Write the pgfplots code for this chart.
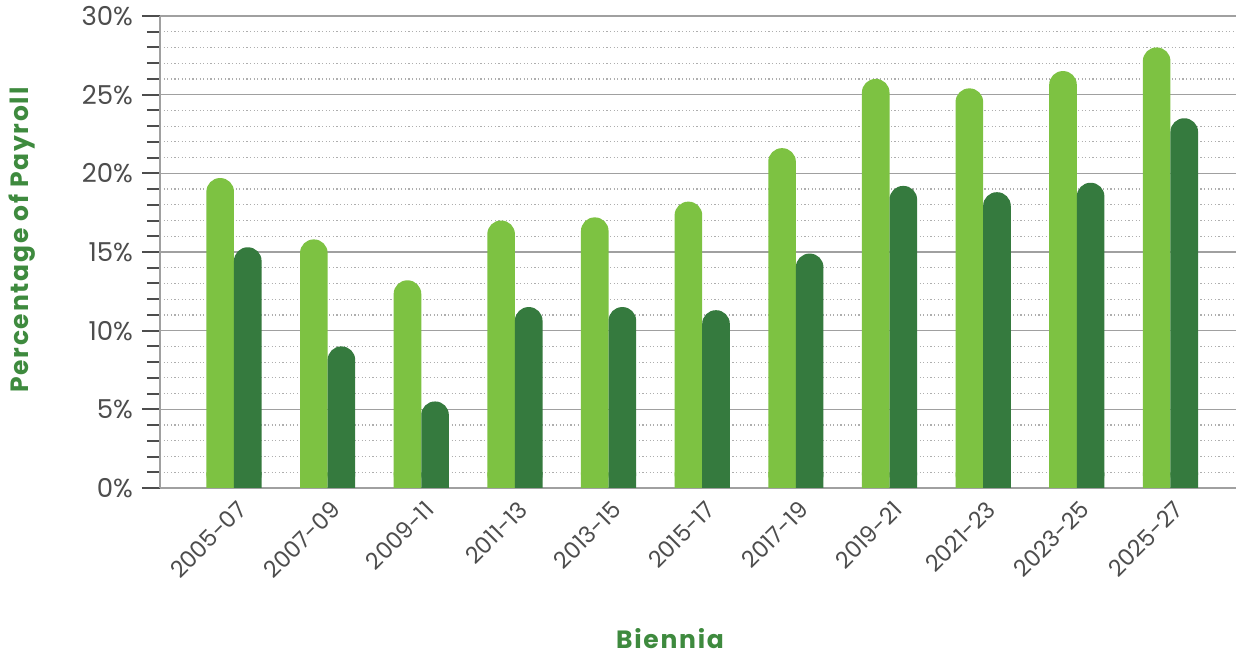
\documentclass[border=0pt]{standalone}
\usepackage{pgfplots}
\pgfplotsset{compat=1.18}
\usepackage{pgfplotstable}
\usepackage{fontspec}
\setmainfont{Poppins}
\newfontfamily\labelfont[LetterSpace=7]{Poppins}

\definecolor{lightbar}{RGB}{125,194,66}
\definecolor{darkbar}{RGB}{53,122,62}
\definecolor{labelgreen}{RGB}{62,138,62}
\definecolor{tickgray}{RGB}{77,77,77}
\definecolor{gridgray}{RGB}{160,160,160}

% biennium index, light series, dark series (percent of payroll)
\pgfplotstableread{
x  light dark
0  19.7  15.3
1  15.8  9.0
2  13.2  5.5
3  17.0  11.5
4  17.2  11.5
5  18.2  11.3
6  21.6  14.9
7  26.0  19.2
8  25.4  18.8
9  26.5  19.4
10 28.0  23.5
}\biennia

\begin{document}
\begin{tikzpicture}
\useasboundingbox (-80pt,-85pt) rectangle (539pt,244pt);
\begin{axis}[
  scale only axis,
  width=538pt, height=236pt,
  xmin=-0.79, xmax=10.7,
  ymin=0, ymax=30,
  ybar=0pt, bar width=13.8pt,
  axis x line*=bottom, axis y line*=left,
  axis line style={draw=gridgray, line width=0.8pt},
  xtick={0,...,10},
  xticklabels={2005-07,2007-09,2009-11,2011-13,2013-15,2015-17,2017-19,2019-21,2021-23,2023-25,2025-27},
  major x tick style={draw=none},
  xticklabel style={rotate=45, anchor=north east, font=\fontsize{11.5}{13}\selectfont, text=tickgray, xshift=6.5pt, yshift=5pt},
  ytick={0,5,...,30},
  minor y tick num=4,
  yticklabel={\pgfmathprintnumber{\tick}\%},
  /pgf/number format/assume math mode=true,
  yticklabel style={font=\fontsize{13}{15}\selectfont, text=tickgray, xshift=-1pt},
  tick align=outside,
  major tick length=9pt, minor tick length=6.5pt,
  y tick style={draw=tickgray, line width=1pt},
  ymajorgrids, yminorgrids,
  major grid style={draw=gridgray, line width=0.7pt},
  minor grid style={draw=gridgray!85, line width=0.6pt, dash pattern=on 0.6pt off 1.2pt},
  xlabel={\labelfont\bfseries Biennia},
  ylabel={\labelfont\bfseries Percentage of Payroll},
  label style={font=\fontsize{12.5}{14}\selectfont, text=labelgreen},
  xlabel style={at={(axis description cs:0.474,0)}, anchor=base, yshift=-80.5pt},
  ylabel style={at={(axis description cs:-0.1283,0.525)}, anchor=center},
]
\addplot[fill=lightbar, draw=none, rounded corners=6.8pt, bar shift=-6.9pt] table[x=x, y=light] {\biennia};
\addplot[fill=darkbar, draw=none, rounded corners=6.8pt, bar shift=6.9pt] table[x=x, y=dark] {\biennia};
% square feet so that only the tops are rounded
\addplot[fill=lightbar, draw=none, bar shift=-6.9pt] coordinates {(0,1) (1,1) (2,1) (3,1) (4,1) (5,1) (6,1) (7,1) (8,1) (9,1) (10,1)};
\addplot[fill=darkbar, draw=none, bar shift=6.9pt] coordinates {(0,1) (1,1) (2,1) (3,1) (4,1) (5,1) (6,1) (7,1) (8,1) (9,1) (10,1)};
\end{axis}
\end{tikzpicture}
\end{document}
